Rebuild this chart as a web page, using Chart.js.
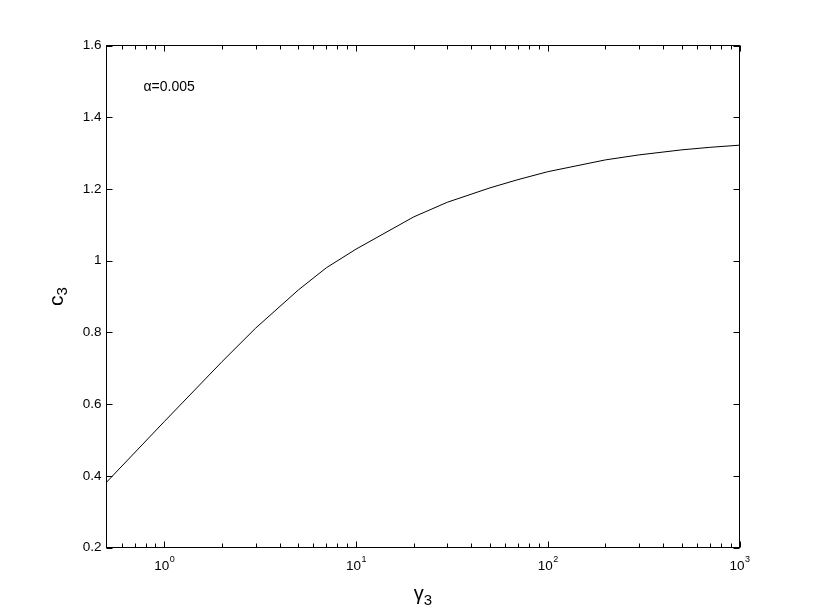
<!DOCTYPE html>
<html>
<head>
<meta charset="utf-8">
<script src="https://cdn.jsdelivr.net/npm/chart.js@4/dist/chart.umd.min.js"></script>
<style>
  html, body { margin: 0; padding: 0; background: #fff; }
  #wrap { width: 817px; height: 616px; }
</style>
</head>
<body>
<div id="wrap"><canvas id="c" width="817" height="616"></canvas></div>
<script>
// ---- data ----
const gammaValues = [0.5, 1, 2, 3, 5, 7, 10, 20, 30, 50, 70, 100, 200, 300, 500, 700, 1000];
const cValues     = [0.382, 0.551, 0.718, 0.812, 0.918, 0.980, 1.032, 1.122, 1.163, 1.203, 1.226, 1.248, 1.281, 1.295, 1.309, 1.316, 1.322];
const yTickValues = [0.2, 0.4, 0.6, 0.8, 1.0, 1.2, 1.4, 1.6];
const xMajorTicks = [1, 10, 100, 1000];
const xTickBase   = ['10', '10', '10', '10'];
const xTickExp    = ['0', '1', '2', '3'];
const xMinorTicks = [0.6, 0.7, 0.8, 0.9, 2, 3, 4, 5, 6, 7, 8, 9, 20, 30, 40, 50, 60, 70, 80, 90, 200, 300, 400, 500, 600, 700, 800, 900];
const annotationText = 'α=0.005';
const xTitleMain = 'γ', xTitleSub = '3';
const yTitleMain = 'c', yTitleSub = '3';

const FONT = '"Liberation Sans", Arial, Helvetica, sans-serif';

const boxPlugin = {
  id: 'matlabBox',
  afterDraw(chart) {
    const ctx = chart.ctx;
    const a = chart.chartArea;
    const xs = chart.scales.x, ys = chart.scales.y;
    ctx.save();
    ctx.strokeStyle = '#000';
    ctx.lineWidth = 1;
    ctx.strokeRect(a.left, a.top, a.right - a.left, a.bottom - a.top);
    // y ticks (inward, both sides)
    ctx.beginPath();
    yTickValues.forEach(v => {
      const py = Math.round(ys.getPixelForValue(v)) + 0.5;
      ctx.moveTo(a.left, py); ctx.lineTo(a.left + 6, py);
      ctx.moveTo(a.right, py); ctx.lineTo(a.right - 6, py);
    });
    // x major ticks
    xMajorTicks.forEach(v => {
      const px = Math.round(xs.getPixelForValue(v)) + 0.5;
      ctx.moveTo(px, a.bottom); ctx.lineTo(px, a.bottom - 6);
      ctx.moveTo(px, a.top); ctx.lineTo(px, a.top + 6);
    });
    xMinorTicks.forEach(v => {
      const px = Math.round(xs.getPixelForValue(v)) + 0.5;
      ctx.moveTo(px, a.bottom); ctx.lineTo(px, a.bottom - 4);
      ctx.moveTo(px, a.top); ctx.lineTo(px, a.top + 4);
    });
    ctx.stroke();

    // x tick labels with superscripts
    ctx.fillStyle = '#000';
    ctx.textBaseline = 'alphabetic';
    ctx.textAlign = 'left';
    xMajorTicks.forEach((v, i) => {
      const px = xs.getPixelForValue(v);
      ctx.font = '13.5px ' + FONT;
      const wb = ctx.measureText(xTickBase[i]).width;
      ctx.font = '9px ' + FONT;
      const we = ctx.measureText(xTickExp[i]).width;
      const x0 = px - (wb + we) / 2;
      ctx.font = '13.5px ' + FONT;
      ctx.fillText(xTickBase[i], x0, 569.5);
      ctx.font = '9px ' + FONT;
      ctx.fillText(xTickExp[i], x0 + wb + 0.5, 561.5);
    });

    // x title
    const cx = (a.left + a.right) / 2;
    ctx.font = '20px ' + FONT;
    const wg = ctx.measureText(xTitleMain).width;
    ctx.font = '15px ' + FONT;
    const w3 = ctx.measureText(xTitleSub).width;
    let sx = cx - (wg + w3) / 2;
    ctx.font = '20px ' + FONT;
    ctx.fillText(xTitleMain, sx, 600);
    ctx.font = '15px ' + FONT;
    ctx.fillText(xTitleSub, sx + wg, 605);

    // y title (rotated)
    const cy = (a.top + a.bottom) / 2;
    ctx.save();
    ctx.translate(63, cy);
    ctx.rotate(-Math.PI / 2);
    ctx.font = '21px ' + FONT;
    const wc = ctx.measureText(yTitleMain).width;
    ctx.font = '15px ' + FONT;
    const w3y = ctx.measureText(yTitleSub).width;
    const sy = -(wc + w3y) / 2;
    ctx.font = '21px ' + FONT;
    ctx.fillText(yTitleMain, sy, 0);
    ctx.font = '15px ' + FONT;
    ctx.fillText(yTitleSub, sy + wc, 4);
    ctx.restore();

    // annotation
    ctx.font = '14px ' + FONT;
    ctx.textBaseline = 'middle';
    ctx.fillText(annotationText, 143.5, 87);
    ctx.restore();
  }
};

new Chart(document.getElementById('c'), {
  type: 'line',
  data: {
    datasets: [{
      data: gammaValues.map((g, i) => ({ x: g, y: cValues[i] })),
      borderColor: '#000',
      borderWidth: 1,
      pointRadius: 0,
      tension: 0,
      fill: false
    }]
  },
  options: {
    responsive: false,
    animation: false,
    devicePixelRatio: 1,
    layout: { padding: { left: 0, right: 77.5, top: 45.5, bottom: 0 } },
    plugins: { legend: { display: false }, tooltip: { enabled: false }, title: { display: false } },
    scales: {
      x: {
        type: 'logarithmic',
        min: 0.5,
        max: 1000,
        grid: { display: false, drawTicks: false },
        border: { display: false },
        ticks: { display: false },
        afterFit: (s) => { s.height = 68.5; }
      },
      y: {
        type: 'linear',
        min: 0.2,
        max: 1.6,
        grid: { display: false, drawTicks: false },
        border: { display: false },
        afterFit: (s) => { s.width = 106.5; },
        ticks: {
          stepSize: 0.2,
          padding: 5,
          color: '#000',
          font: { family: FONT, size: 13.5 },
          callback: (v) => String(Number(Number(v).toFixed(1)))
        }
      }
    }
  },
  plugins: [boxPlugin]
});
</script>
</body>
</html>
